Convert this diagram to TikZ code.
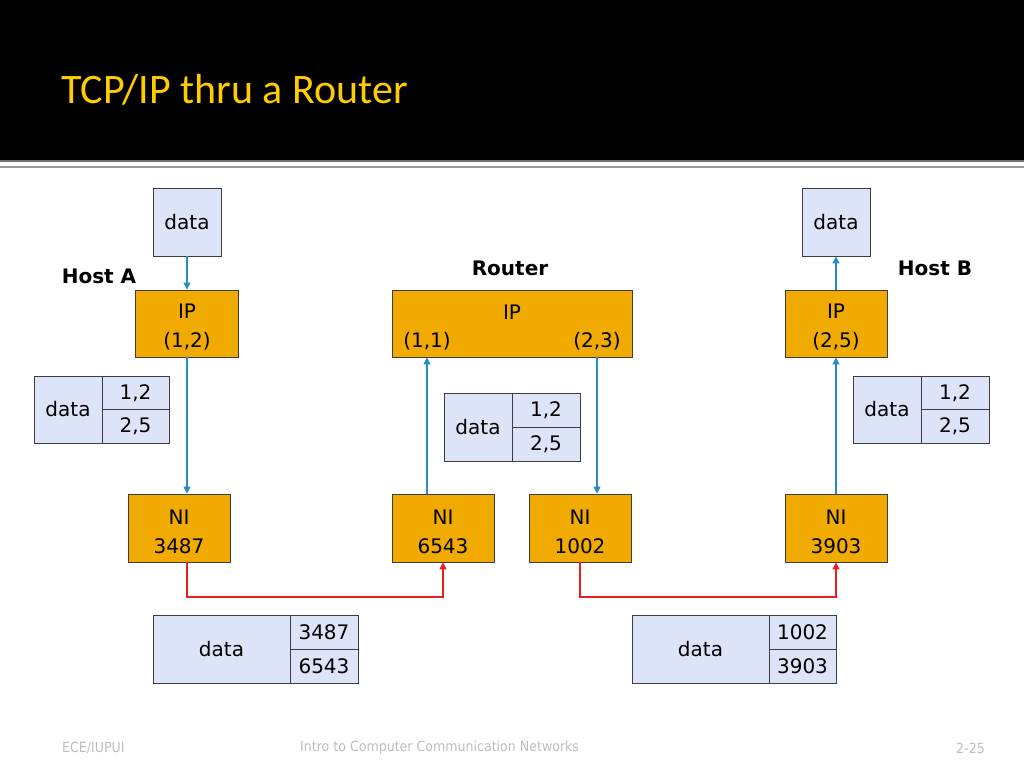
\documentclass[tikz,border=0pt]{standalone}
\usepackage{fontspec}
\setmainfont{DejaVu Sans}
\newfontfamily\titlefont{Carlito}
\newfontfamily\footfont{DejaVu Sans Condensed}
\usetikzlibrary{arrows.meta}
\definecolor{titleyellow}{RGB}{255,204,0}
\definecolor{ipfill}{RGB}{240,170,0}
\definecolor{datafill}{RGB}{221,228,248}
\definecolor{boxline}{RGB}{60,60,70}
\definecolor{bluearrow}{RGB}{40,140,195}
\definecolor{redarrow}{RGB}{235,30,30}
\definecolor{footgrey}{RGB}{190,190,190}
\tikzset{
  txt/.style={font=\fontsize{20}{29}\selectfont, text=black, inner sep=0pt, align=center},
  ipbox/.style={draw=boxline, fill=ipfill, line width=0.9pt, txt},
  twoline/.style={label={[txt,yshift=-4pt]center:#1}},
  databox/.style={draw=boxline, fill=datafill, line width=0.9pt, txt},
  lbl/.style={font=\fontsize{20}{23}\selectfont\bfseries, inner sep=0pt},
  bluearr/.style={draw=bluearrow, line width=1.3pt, -{Triangle[width=7pt,length=7pt]}},
  redarr/.style={draw=redarrow, line width=1.3pt, -{Triangle[width=7pt,length=7pt]}},
  foot/.style={font=\footfont\fontsize{14}{16}\selectfont, text=footgrey, inner sep=0pt, anchor=west}
}
\begin{document}
\begin{tikzpicture}[x=1pt,y=-1pt]
\useasboundingbox (0,0) rectangle (1024,768);
\fill[white] (0,0) rectangle (1024,768);
% header band
\fill[black] (0,0) rectangle (1024,160);
\fill[black!55] (0,160) rectangle (1024,161.5);
\fill[black!40] (0,165.5) rectangle (1024,168);
\node[font=\titlefont\fontsize{42}{46}\selectfont, text=titleyellow, anchor=base west, inner sep=0pt] (title) at (61,103) {TCP/IP thru a Router};

% labels
\node[lbl] (hosta) at (99,276) {Host A};
\node[lbl] (router) at (510,268) {Router};
\node[lbl] (hostb) at (935,268) {Host B};

% top data boxes
\node[databox, minimum width=68pt, minimum height=68pt] (dataA) at (187,222) {data};
\node[databox, minimum width=68pt, minimum height=68pt] (dataB) at (836,222) {data};

% IP boxes
\node[ipbox, minimum width=103pt, minimum height=67pt, twoline={IP\\(1,2)}] (ipA) at (187,323.5) {};
\node[ipbox, minimum width=240pt, minimum height=67pt] (ipR) at (512,323.5) {};
\node[txt] (ipRt) at (512,312) {IP};
\node[txt] (ipR1) at (427,341) {(1,1)};
\node[txt] (ipR2) at (597,341) {(2,3)};
\node[ipbox, minimum width=102pt, minimum height=67pt, twoline={IP\\(2,5)}] (ipB) at (836,323.5) {};

% NI boxes
\node[ipbox, minimum width=102pt, minimum height=68pt, twoline={NI\\3487}] (niA) at (179,528) {};
\node[ipbox, minimum width=102pt, minimum height=68pt, twoline={NI\\6543}] (niR1) at (443,528) {};
\node[ipbox, minimum width=102pt, minimum height=68pt, twoline={NI\\1002}] (niR2) at (580,528) {};
\node[ipbox, minimum width=102pt, minimum height=68pt, twoline={NI\\3903}] (niB) at (836,528) {};

% IP header frames
\node[databox, minimum width=68pt, minimum height=67pt] (hAd) at (68,409.5) {data};
\node[databox, minimum width=67pt, minimum height=33.5pt] (hA1) at (135.5,393) {1,2};
\node[databox, minimum width=67pt, minimum height=33.5pt] (hA2) at (135.5,426.5) {2,5};

\node[databox, minimum width=68pt, minimum height=68pt] (hRd) at (478,427) {data};
\node[databox, minimum width=68pt, minimum height=34pt] (hR1) at (546,410) {1,2};
\node[databox, minimum width=68pt, minimum height=34pt] (hR2) at (546,444) {2,5};

\node[databox, minimum width=68pt, minimum height=67pt] (hBd) at (887,409.5) {data};
\node[databox, minimum width=68pt, minimum height=33.5pt] (hB1) at (955,393) {1,2};
\node[databox, minimum width=68pt, minimum height=33.5pt] (hB2) at (955,426.5) {2,5};

% link frames
\node[databox, minimum width=137pt, minimum height=68pt] (fAd) at (221.5,649) {data};
\node[databox, minimum width=68pt, minimum height=34pt] (fA1) at (324,632) {3487};
\node[databox, minimum width=68pt, minimum height=34pt] (fA2) at (324,666) {6543};

\node[databox, minimum width=137pt, minimum height=68pt] (fBd) at (700.5,649) {data};
\node[databox, minimum width=67pt, minimum height=34pt] (fB1) at (802.5,632) {1002};
\node[databox, minimum width=67pt, minimum height=34pt] (fB2) at (802.5,666) {3903};

% blue arrows
\draw[bluearr] (dataA.south) -- (ipA.north);
\draw[bluearr] (ipA.south) -- (ipA.south |- niA.north);
\draw[bluearr] (niR1.north -| ipR1) -- (ipR.south -| ipR1);
\draw[bluearr] (ipR.south -| ipR2) -- (niR2.north -| ipR2);
\draw[bluearr] (niB.north) -- (ipB.south);
\draw[bluearr] (ipB.north) -- (dataB.south);

% red links
\coordinate (ra) at (187,597);
\coordinate (rb) at (836,597);
\draw[redarr] (ra |- niA.south) -- (ra) -| (niR1.south);
\draw[redarr] (niR2.south) -- (niR2.south |- rb) -| (niB.south);

% footer
\node[foot] (f1) at (62,748) {ECE/IUPUI};
\node[foot] (f2) at (300,748) {Intro to Computer Communication Networks};
\node[foot] (f3) at (956,748) {2-25};
\end{tikzpicture}
\end{document}
